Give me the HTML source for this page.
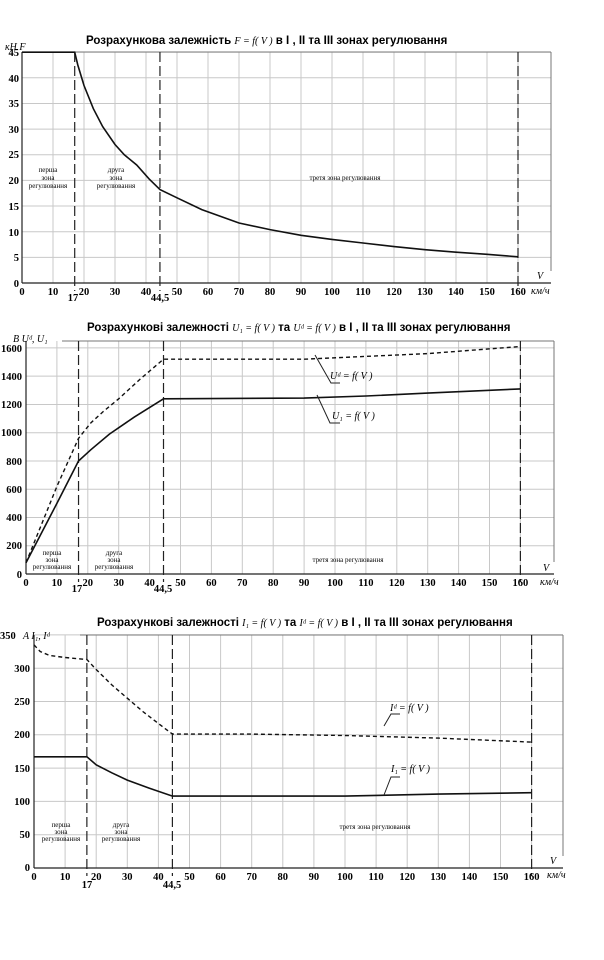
<!DOCTYPE html>
<html><head><meta charset="utf-8"><style>
body{margin:0;background:#fff;}
svg{display:block;}
.t{font-family:"Liberation Sans",sans-serif;font-size:11.5px;font-weight:bold;}
.t .i{font-weight:normal;}
.k{font-family:"Liberation Serif",serif;font-weight:bold;font-size:10.5px;}
.s{font-family:"Liberation Serif",serif;font-size:7px;}
.i{font-family:"Liberation Serif",serif;font-style:italic;font-size:10px;}
</style></head><body>
<svg id="g" width="604" height="960" xmlns="http://www.w3.org/2000/svg">
<rect width="604" height="960" fill="#fff"/>
<g id="grid"></g>
<text class="t" x="86" y="44">Розрахункова залежність  <tspan class="i">F = f( V )</tspan>  в І , ІІ та ІІІ зонах регулювання</text>
<text class="i" x="5" y="50">кН  F</text>
<g class="k" text-anchor="end">
<text x="19" y="56">45</text><text x="19" y="133">30</text><text x="19" y="107">35</text><text x="19" y="82">40</text>
<text x="19" y="158">25</text><text x="19" y="184">20</text><text x="19" y="210">15</text><text x="19" y="236">10</text><text x="19" y="261">5</text><text x="19" y="287">0</text>
</g>
<g class="k" text-anchor="middle" id="xl1"></g>
<text class="k" x="73" y="301" text-anchor="middle">17</text>
<text class="k" x="160" y="301" text-anchor="middle">44,5</text>
<text class="i" x="537" y="279">V</text><text class="i" x="531" y="294">км/ч</text>
<g class="s" text-anchor="middle"><text x="48" y="172">перша</text><text x="48" y="180">зона</text><text x="48" y="188">регулювання</text>
<text x="116" y="172">друга</text><text x="116" y="180">зона</text><text x="116" y="188">регулювання</text>
<text x="345" y="180">третя зона регулювання</text></g>
<text class="t" x="87" y="331">Розрахункові  залежності <tspan class="i">U₁ = f( V )</tspan> та  <tspan class="i">Uᵈ = f( V )</tspan>  в І , ІІ та ІІІ зонах регулювання</text>
<text class="i" x="13" y="342">В   Uᵈ, U₁</text>
<g class="k" text-anchor="end">
<text x="22" y="352">1600</text><text x="22" y="380">1400</text><text x="22" y="408">1200</text><text x="22" y="436">1000</text><text x="22" y="465">800</text>
<text x="22" y="493">600</text><text x="22" y="521">400</text><text x="22" y="549">200</text><text x="22" y="578">0</text></g>
<g class="k" text-anchor="middle" id="xl2"></g>
<text class="k" x="77" y="592" text-anchor="middle">17</text>
<text class="k" x="163" y="592" text-anchor="middle">44,5</text>
<text class="i" x="543" y="571">V</text><text class="i" x="540" y="585">км/ч</text>
<g class="s" text-anchor="middle"><text x="52" y="555">перша</text><text x="52" y="562">зона</text><text x="52" y="569">регулювання</text>
<text x="114" y="555">друга</text><text x="114" y="562">зона</text><text x="114" y="569">регулювання</text>
<text x="348" y="562">третя зона регулювання</text></g>
<text class="i" x="330" y="379">Uᵈ = f( V )</text>
<text class="i" x="332" y="419">U₁ = f( V )</text>
<text class="t" x="97" y="626">Розрахункові  залежності <tspan class="i">I₁ = f( V )</tspan> та <tspan class="i">Iᵈ = f( V )</tspan>  в І , ІІ та ІІІ зонах регулювання</text>
<text class="k" x="0" y="639">350</text><text class="i" x="23" y="639">A    I₁, Iᵈ</text>
<g class="k" text-anchor="end">
<text x="30" y="672">300</text><text x="30" y="705">250</text><text x="30" y="738">200</text><text x="30" y="772">150</text>
<text x="30" y="805">100</text><text x="30" y="838">50</text><text x="30" y="871">0</text></g>
<g class="k" text-anchor="middle" id="xl3"></g>
<text class="k" x="87" y="888" text-anchor="middle">17</text>
<text class="k" x="172" y="888" text-anchor="middle">44,5</text>
<text class="i" x="550" y="864">V</text><text class="i" x="547" y="878">км/ч</text>
<g class="s" text-anchor="middle"><text x="61" y="827">перша</text><text x="61" y="834">зона</text><text x="61" y="841">регулювання</text>
<text x="121" y="827">друга</text><text x="121" y="834">зона</text><text x="121" y="841">регулювання</text>
<text x="375" y="829">третя зона регулювання</text></g>
<text class="i" x="390" y="711">Iᵈ = f( V )</text>
<text class="i" x="391" y="772">I₁ = f( V )</text>
</svg>
<script>
var NS="http://www.w3.org/2000/svg",G=document.getElementById('grid');
function el(n,a,p){var e=document.createElementNS(NS,n);for(var k in a)e.setAttribute(k,a[k]);(p||G).appendChild(e);return e;}
function ln(x1,y1,x2,y2,st,w,da){el('line',{x1:x1,y1:y1,x2:x2,y2:y2,stroke:st,'stroke-width':w||1,'stroke-dasharray':da||'none'});}
function chart(c){
 var X=function(v){return c.x0+v*c.sx},Y=function(v){return c.y0-v*c.sy};
 for(var v=10;v<=160;v+=10)ln(X(v),c.top,X(v),c.y0,'#c8c8c8',1);
 for(var v=c.ys;v<=c.ymax;v+=c.ys)ln(c.x0,Y(v),c.right,Y(v),'#c8c8c8',1);
 ln(c.tl,c.top,c.right,c.top,'#777',1);
 ln(c.right,c.top,c.right,c.y0-12,'#777',1);
 ln(c.x0,c.top,c.x0,c.y0,'#222',1.2);
 ln(c.x0,c.y0,c.right,c.y0,'#222',1.2);
 [17,44.5].forEach(function(v){ln(X(v),c.top,X(v),c.y0+8,'#222',1.2,'10,4')});
 ln(X(160),c.top,X(160),c.y0+8,'#222',1.2,'10,4');
 c.series.forEach(function(s){
  var d=s.p.map(function(p,i){return (i?'L':'M')+X(p[0]).toFixed(1)+','+Y(p[1]).toFixed(1)}).join('');
  el('path',{d:d,fill:'none',stroke:'#111','stroke-width':s.w||1.4,'stroke-dasharray':s.da||'none'});
 });
 (c.leaders||[]).forEach(function(l){el('polyline',{points:l,fill:'none',stroke:'#222','stroke-width':1})});
 var g=document.getElementById(c.xl);
 for(var v=0;v<=150;v+=10){var t=el('text',{x:X(v),y:c.y0+12},g);t.textContent=v;}
 var t=el('text',{x:X(160),y:c.y0+12},g);t.textContent='160';
}
chart({x0:22,sx:3.1,y0:283,sy:5.13,ys:5,ymax:45,top:52,right:551,tl:22,xl:'xl1',
 series:[{p:[[0,45],[17,45],[18,42.5],[20,38.5],[23,34],[26,30.5],[30,27],[33,25],[37,23],[41,20.3],[44.5,18.2],[50,16.6],[58,14.3],[70,11.7],[80,10.4],[90,9.3],[100,8.5],[110,7.8],[120,7.1],[130,6.5],[140,6],[150,5.6],[160,5.1]],w:1.6}]});
chart({x0:26,sx:3.09,y0:574,sy:0.1413,ys:200,ymax:1600,top:341,right:554,tl:62,xl:'xl2',
 series:[{p:[[0,80],[5,350],[10,620],[17,960],[21,1070],[25,1150],[30,1240],[37,1380],[44.5,1520],[90,1520],[110,1540],[130,1560],[160,1610]],da:'4,3'},
 {p:[[0,80],[10,500],[17,800],[21,880],[27,990],[35,1110],[44.5,1240],[90,1245],[110,1260],[130,1280],[160,1310]],w:1.6}],
 leaders:['340,383 331,383 315,355','340,423 330,423 317,395']});
chart({x0:34,sx:3.11,y0:868,sy:0.666,ys:50,ymax:350,top:635,right:563,tl:80,xl:'xl3',
 series:[{p:[[0,335],[2,325],[5,319],[10,316],[17,313],[20,298],[25,275],[30,255],[35,235],[40,217],[44.5,201],[70,201],[100,199],[130,195],[160,189]],da:'4,3'},
 {p:[[0,167],[17,167],[20,155],[25,143],[30,132],[37,120],[44.5,108],[100,108],[130,111],[160,113]],w:1.6}],
 leaders:['400,714 391,714 384,726','400,777 391,777 384,795']});
</script>
</body></html>
